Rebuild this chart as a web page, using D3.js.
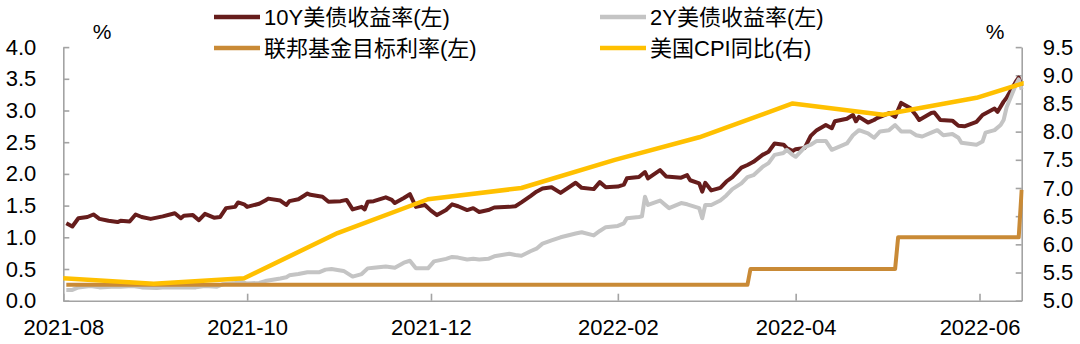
<!DOCTYPE html>
<html><head><meta charset="utf-8">
<script src="https://cdn.jsdelivr.net/npm/d3@7"></script>
<style>body{margin:0;background:#fff}svg{display:block}</style>
</head><body>
<svg id="c" width="1080" height="344"></svg>
<script>
// ---------- DATA ----------
const dates10y = ["2021-08-02","2021-08-04","2021-08-06","2021-08-09","2021-08-11","2021-08-13","2021-08-16","2021-08-19","2021-08-20","2021-08-23","2021-08-25","2021-08-27","2021-08-30","2021-09-01","2021-09-03","2021-09-07","2021-09-09","2021-09-10","2021-09-13","2021-09-15","2021-09-17","2021-09-20","2021-09-22","2021-09-24","2021-09-27","2021-09-28","2021-09-30","2021-10-01","2021-10-05","2021-10-07","2021-10-08","2021-10-12","2021-10-14","2021-10-15","2021-10-18","2021-10-20","2021-10-21","2021-10-22","2021-10-26","2021-10-28","2021-11-01","2021-11-03","2021-11-05","2021-11-08","2021-11-09","2021-11-10","2021-11-12","2021-11-16","2021-11-18","2021-11-19","2021-11-22","2021-11-24","2021-11-26","2021-11-29","2021-12-01","2021-12-03","2021-12-06","2021-12-08","2021-12-10","2021-12-13","2021-12-15","2021-12-17","2021-12-20","2021-12-22","2021-12-27","2021-12-29","2021-12-31","2022-01-03","2022-01-05","2022-01-07","2022-01-10","2022-01-13","2022-01-18","2022-01-20","2022-01-24","2022-01-26","2022-01-28","2022-02-01","2022-02-03","2022-02-04","2022-02-08","2022-02-10","2022-02-11","2022-02-15","2022-02-17","2022-02-22","2022-02-24","2022-02-25","2022-02-28","2022-03-01","2022-03-02","2022-03-04","2022-03-07","2022-03-09","2022-03-11","2022-03-14","2022-03-16","2022-03-18","2022-03-21","2022-03-23","2022-03-25","2022-03-28","2022-03-29","2022-03-31","2022-04-01","2022-04-04","2022-04-06","2022-04-08","2022-04-11","2022-04-13","2022-04-14","2022-04-18","2022-04-20","2022-04-21","2022-04-22","2022-04-25","2022-04-27","2022-04-28","2022-05-02","2022-05-04","2022-05-06","2022-05-09","2022-05-11","2022-05-12","2022-05-16","2022-05-17","2022-05-19","2022-05-23","2022-05-25","2022-05-27","2022-05-31","2022-06-02","2022-06-06","2022-06-07","2022-06-09","2022-06-10","2022-06-13","2022-06-14","2022-06-15"];
const yield10y = [1.22,1.17,1.30,1.32,1.36,1.29,1.26,1.24,1.26,1.25,1.36,1.32,1.29,1.31,1.33,1.38,1.30,1.34,1.35,1.27,1.37,1.31,1.32,1.46,1.48,1.55,1.52,1.48,1.53,1.58,1.61,1.58,1.51,1.57,1.60,1.66,1.69,1.67,1.64,1.56,1.57,1.59,1.44,1.48,1.44,1.56,1.57,1.63,1.59,1.54,1.62,1.68,1.48,1.51,1.42,1.35,1.43,1.52,1.49,1.43,1.46,1.40,1.43,1.47,1.48,1.49,1.55,1.65,1.72,1.77,1.79,1.70,1.86,1.78,1.76,1.87,1.79,1.80,1.83,1.93,1.95,2.03,1.93,2.06,1.96,1.94,1.98,1.90,1.85,1.72,1.86,1.74,1.78,1.88,1.95,2.10,2.14,2.19,2.30,2.35,2.48,2.46,2.41,2.36,2.39,2.41,2.60,2.69,2.77,2.72,2.83,2.87,2.93,2.83,2.90,2.81,2.85,2.88,2.96,2.90,3.12,3.04,2.92,2.85,2.96,2.97,2.85,2.84,2.76,2.75,2.82,2.93,3.03,2.98,3.14,3.20,3.45,3.52,3.38];

const dates2y = ["2021-08-02","2021-08-04","2021-08-06","2021-08-10","2021-08-13","2021-08-17","2021-08-20","2021-08-24","2021-08-27","2021-09-01","2021-09-03","2021-09-08","2021-09-10","2021-09-14","2021-09-17","2021-09-21","2021-09-23","2021-09-27","2021-09-29","2021-10-01","2021-10-05","2021-10-07","2021-10-12","2021-10-14","2021-10-15","2021-10-18","2021-10-21","2021-10-25","2021-10-27","2021-10-29","2021-11-02","2021-11-05","2021-11-08","2021-11-10","2021-11-12","2021-11-16","2021-11-19","2021-11-22","2021-11-24","2021-11-26","2021-11-30","2021-12-02","2021-12-06","2021-12-08","2021-12-10","2021-12-13","2021-12-15","2021-12-17","2021-12-20","2021-12-22","2021-12-27","2021-12-29","2021-12-31","2022-01-03","2022-01-05","2022-01-07","2022-01-10","2022-01-13","2022-01-18","2022-01-20","2022-01-24","2022-01-26","2022-01-28","2022-02-01","2022-02-03","2022-02-04","2022-02-08","2022-02-09","2022-02-10","2022-02-11","2022-02-15","2022-02-17","2022-02-18","2022-02-22","2022-02-24","2022-02-28","2022-03-01","2022-03-02","2022-03-04","2022-03-07","2022-03-09","2022-03-11","2022-03-14","2022-03-16","2022-03-18","2022-03-21","2022-03-23","2022-03-25","2022-03-28","2022-03-29","2022-03-31","2022-04-01","2022-04-04","2022-04-06","2022-04-08","2022-04-11","2022-04-13","2022-04-18","2022-04-20","2022-04-22","2022-04-25","2022-04-27","2022-04-29","2022-05-02","2022-05-04","2022-05-06","2022-05-09","2022-05-11","2022-05-13","2022-05-16","2022-05-18","2022-05-20","2022-05-23","2022-05-25","2022-05-26","2022-05-31","2022-06-02","2022-06-03","2022-06-06","2022-06-08","2022-06-09","2022-06-10","2022-06-13","2022-06-14","2022-06-15"];
const yield2y = [0.17,0.17,0.21,0.23,0.21,0.22,0.22,0.23,0.21,0.20,0.21,0.21,0.21,0.21,0.23,0.22,0.26,0.28,0.30,0.27,0.28,0.31,0.35,0.37,0.40,0.42,0.45,0.45,0.49,0.50,0.47,0.38,0.42,0.51,0.52,0.54,0.52,0.60,0.63,0.51,0.51,0.62,0.66,0.69,0.68,0.65,0.66,0.65,0.66,0.70,0.74,0.72,0.71,0.78,0.82,0.90,0.95,1.00,1.06,1.08,1.03,1.10,1.16,1.18,1.22,1.30,1.32,1.33,1.64,1.51,1.58,1.50,1.46,1.54,1.52,1.46,1.30,1.51,1.51,1.58,1.66,1.76,1.85,1.95,1.98,2.11,2.17,2.30,2.33,2.38,2.30,2.27,2.42,2.46,2.52,2.52,2.38,2.48,2.61,2.69,2.64,2.57,2.67,2.69,2.77,2.67,2.67,2.61,2.59,2.65,2.69,2.61,2.63,2.57,2.49,2.46,2.51,2.65,2.69,2.77,2.85,3.05,3.40,3.49,3.33];

const fedDates = ["2021-08-02","2022-03-16","2022-03-17","2022-05-04","2022-05-05","2022-06-14","2022-06-15"];
const fedRate  = [0.25,0.25,0.50,0.50,1.00,1.00,1.75];

const cpiDates = ["2021-07-31","2021-08-31","2021-09-30","2021-10-31","2021-11-30","2021-12-31","2022-01-31","2022-02-28","2022-03-31","2022-04-30","2022-05-31","2022-06-30"];
const cpiYoY   = [5.4,5.3,5.4,6.2,6.8,7.0,7.5,7.9,8.5,8.3,8.6,9.1];

const xTicks = ["2021-08-01","2021-10-01","2021-12-01","2022-02-01","2022-04-01","2022-06-01"];
const leftTicks = [0,0.5,1,1.5,2,2.5,3,3.5,4];
const rightTicks = [5,5.5,6,6.5,7,7.5,8,8.5,9,9.5];
const seriesNames = ["10Y美债收益率(左)","2Y美债收益率(左)","联邦基金目标利率(左)","美国CPI同比(右)"];
const seriesColors = ["#661d1c","#c4c4c4","#c98a36","#ffc000"];

// ---------- CHART ----------
const FONT = '"Liberation Sans", Arial, "Noto Sans CJK SC", sans-serif';
const svg = d3.select("#c").style("font-family", FONT);
const parse = d3.utcParse("%Y-%m-%d");
const X0 = 63.3, X1 = 1021.7, Y0 = 300.7, Y1 = 47.1;

const x = d3.scaleUtc().domain([parse("2021-08-01"), parse("2022-06-15")]).range([X0, X1]);
const yL = d3.scaleLinear().domain([0, 4]).range([Y0, Y1]);
const yR = d3.scaleLinear().domain([5, 9.5]).range([Y0, Y1]);

svg.append("defs").append("clipPath").attr("id","clip")
  .append("rect").attr("x", X0).attr("y", 0).attr("width", X1 - X0 + 2).attr("height", 344);

const axisColor = "#a3a3a3";
function styleAxis(g){
  g.select(".domain").attr("stroke", axisColor).attr("stroke-width", 1.6);
  g.selectAll(".tick line").attr("stroke", axisColor).attr("stroke-width", 1.6);
  g.selectAll(".tick text").attr("fill", "#000").style("font-size", "22px").style("font-family", FONT);
}

svg.append("g").attr("transform", `translate(0,${Y0})`)
  .call(d3.axisBottom(x).tickValues(xTicks.map(parse)).tickFormat(d3.utcFormat("%Y-%m"))
    .tickSizeInner(-7).tickSizeOuter(0).tickPadding(19))
  .call(styleAxis);

svg.append("g").attr("transform", `translate(${X0},0)`)
  .call(d3.axisLeft(yL).tickValues(leftTicks).tickFormat(d3.format(".1f"))
    .tickSizeInner(-6).tickSizeOuter(0).tickPadding(27))
  .call(styleAxis);

svg.append("g").attr("transform", `translate(${X1},0)`)
  .call(d3.axisRight(yR).tickValues(rightTicks).tickFormat(d3.format(".1f"))
    .tickSizeInner(-6).tickSizeOuter(0).tickPadding(21))
  .call(styleAxis);

// units
svg.append("text").attr("x", 102).attr("y", 31).attr("text-anchor","middle")
  .attr("dominant-baseline","central").style("font-size","21px").text("%");
svg.append("text").attr("x", 995).attr("y", 31).attr("text-anchor","middle")
  .attr("dominant-baseline","central").style("font-size","21px").text("%");

// lines
const plot = svg.append("g").attr("clip-path","url(#clip)");
function addLine(dates, vals, yScale, color, width){
  const data = dates.map((d,i)=>({d:parse(d), v:vals[i]}));
  plot.append("path").datum(data)
    .attr("fill","none").attr("stroke", color).attr("stroke-width", width)
    .attr("stroke-linejoin","round").attr("stroke-linecap","butt")
    .attr("d", d3.line().x(p=>x(p.d)).y(p=>yScale(p.v)));
}
addLine(dates10y, yield10y, yL, seriesColors[0], 4);
addLine(dates2y, yield2y, yL, seriesColors[1], 4);
addLine(fedDates, fedRate, yL, seriesColors[2], 4);
addLine(cpiDates, cpiYoY, yR, seriesColors[3], 4.5);

// legend
const legPos = [[214,17],[600,17],[214,48],[600,48]];
seriesNames.forEach((name,i)=>{
  const [lx,ly] = legPos[i];
  svg.append("line").attr("x1",lx).attr("x2",lx+46).attr("y1",ly).attr("y2",ly)
    .attr("stroke",seriesColors[i]).attr("stroke-width",4.5);
  svg.append("text").attr("x",lx+50).attr("y",ly).attr("dominant-baseline","central")
    .style("font-size","22px").attr("fill","#000").text(name);
});
</script>
</body></html>
